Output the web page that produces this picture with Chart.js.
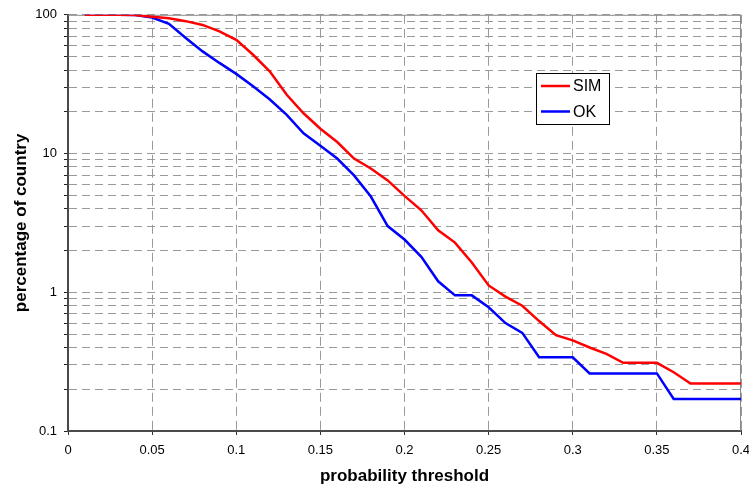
<!DOCTYPE html>
<html>
<head>
<meta charset="utf-8">
<script src="https://cdn.jsdelivr.net/npm/chart.js@4"></script>
<style>
  html, body { margin: 0; padding: 0; background: #ffffff; }
  #wrap { width: 749px; height: 486px; position: relative; }
</style>
</head>
<body>
<div id="wrap"><canvas id="c" width="749" height="486"></canvas></div>
<script>
// ---- data ----
const thresholds = [0.01,0.02,0.03,0.04,0.05,0.06,0.07,0.08,0.09,0.10,
                    0.11,0.12,0.13,0.14,0.15,0.16,0.17,0.18,0.19,0.20,
                    0.21,0.22,0.23,0.24,0.25,0.26,0.27,0.28,0.29,0.30,
                    0.31,0.32,0.33,0.34,0.35,0.36,0.37,0.38,0.39,0.40];
const simValues = [100,100,100,99.5,97,94.5,90,84.5,76,66,
                   51.5,39,26.5,19.5,15.1,12.1,9.2,7.8,6.4,4.95,
                   3.9,2.8,2.28,1.64,1.12,0.93,0.8,0.62,0.49,0.45,
                   0.40,0.36,0.31,0.31,0.31,0.265,0.22,0.22,0.22,0.22];
const okValues  = [100,100,100,99.5,95.5,86,68,54.5,45,37.5,
                   30.5,24.5,19,14,11.4,9.2,6.95,4.9,3.0,2.4,
                   1.8,1.2,0.95,0.95,0.78,0.6,0.51,0.34,0.34,0.34,
                   0.26,0.26,0.26,0.26,0.26,0.17,0.17,0.17,0.17,0.17];
const seriesNames = ['SIM', 'OK'];
const xTicks = [0,0.05,0.1,0.15,0.2,0.25,0.3,0.35,0.4];
const yTicks = [0.1,0.2,0.3,0.4,0.5,0.6,0.7,0.8,0.9,
                1,2,3,4,5,6,7,8,9,
                10,20,30,40,50,60,70,80,90,100];
const yLabels = [0.1, 1, 10, 100];

const FONT = "'Liberation Sans', Arial, sans-serif";

const toPts = (vals) => thresholds.map((x, i) => ({x: x, y: vals[i]}));

const frameLegend = {
  id: 'frameLegend',
  beforeDatasetsDraw(chart) {
    const {ctx, chartArea: a} = chart;
    ctx.save();
    ctx.strokeStyle = '#8a8a8a';
    ctx.lineWidth = 1;
    ctx.beginPath();
    ctx.moveTo(a.left, a.top + 0.5);
    ctx.lineTo(a.right, a.top + 0.5);
    ctx.moveTo(a.right - 0.5, a.top);
    ctx.lineTo(a.right - 0.5, a.bottom);
    ctx.stroke();
    ctx.restore();
  },
  afterDatasetsDraw(chart) {
    const {ctx} = chart;
    const bx = 536, by = 73, bw = 73, bh = 51;
    ctx.save();
    ctx.fillStyle = '#ffffff';
    ctx.fillRect(bx, by, bw, bh);
    ctx.strokeStyle = '#000000';
    ctx.lineWidth = 1;
    ctx.strokeRect(bx + 0.5, by + 0.5, bw, bh);
    ctx.font = '16px ' + FONT;
    ctx.textBaseline = 'middle';
    ctx.textAlign = 'left';
    chart.data.datasets.forEach((ds, i) => {
      const yy = by + 13 + i * 25.5;
      ctx.strokeStyle = ds.borderColor;
      ctx.lineWidth = 2.5;
      ctx.beginPath();
      ctx.moveTo(bx + 5, yy);
      ctx.lineTo(bx + 34, yy);
      ctx.stroke();
      ctx.fillStyle = '#000000';
      ctx.fillText(ds.label, bx + 37, yy + 1);
    });
    ctx.restore();
  }
};

new Chart(document.getElementById('c'), {
  type: 'line',
  data: {
    datasets: [
      { label: seriesNames[0], data: toPts(simValues), borderColor: '#ff0000',
        borderWidth: 2.5, pointRadius: 0, tension: 0, fill: false },
      { label: seriesNames[1], data: toPts(okValues), borderColor: '#0000ff',
        borderWidth: 2.5, pointRadius: 0, tension: 0, fill: false }
    ]
  },
  options: {
    responsive: false,
    animation: false,
    devicePixelRatio: 1,
    layout: { padding: { left: 0, right: 8, top: 14, bottom: 0 } },
    plugins: { legend: { display: false }, tooltip: { enabled: false } },
    scales: {
      x: {
        type: 'linear', min: 0, max: 0.4,
        afterBuildTicks: (s) => { s.ticks = xTicks.map(v => ({value: v})); },
        afterFit: (s) => { s.height = 55; s.paddingLeft = 0; s.paddingRight = 0; },
        ticks: {
          autoSkip: false, maxRotation: 0, color: '#000', padding: 8,
          font: { family: FONT, size: 13 },
          callback: (v) => String(Number(Number(v).toFixed(2)))
        },
        grid: { color: '#9a9a9a', lineWidth: 1, tickLength: 4, tickColor: '#333',
                drawTicks: true },
        border: { display: true, color: '#4a4a4a', width: 2, dash: [9, 5] },
        title: { display: true, text: 'probability threshold', color: '#000',
                 font: { family: FONT, size: 17, weight: 'bold', lineHeight: 1.0 },
                 padding: { top: 0, bottom: 1 } }
      },
      y: {
        type: 'logarithmic', min: 0.1, max: 100,
        afterBuildTicks: (s) => { s.ticks = yTicks.map(v => ({value: v})); },
        afterFit: (s) => { s.width = 68; },
        ticks: {
          autoSkip: false, color: '#000', padding: 7,
          font: { family: FONT, size: 13 },
          callback: (v) => {
            const m = yLabels.find(t => Math.abs(t - v) < 1e-9);
            return m === undefined ? '' : String(m);
          }
        },
        grid: { color: '#9a9a9a', lineWidth: 1, tickLength: 4, tickColor: '#222' },
        border: { display: true, color: '#4a4a4a', width: 2, dash: [8, 5] },
        title: { display: true, text: 'percentage of country', color: '#000',
                 font: { family: FONT, size: 17, weight: 'bold', lineHeight: 1.0 },
                 padding: { top: 13, bottom: 0 } }
      }
    }
  },
  plugins: [frameLegend]
});
</script>
</body>
</html>
